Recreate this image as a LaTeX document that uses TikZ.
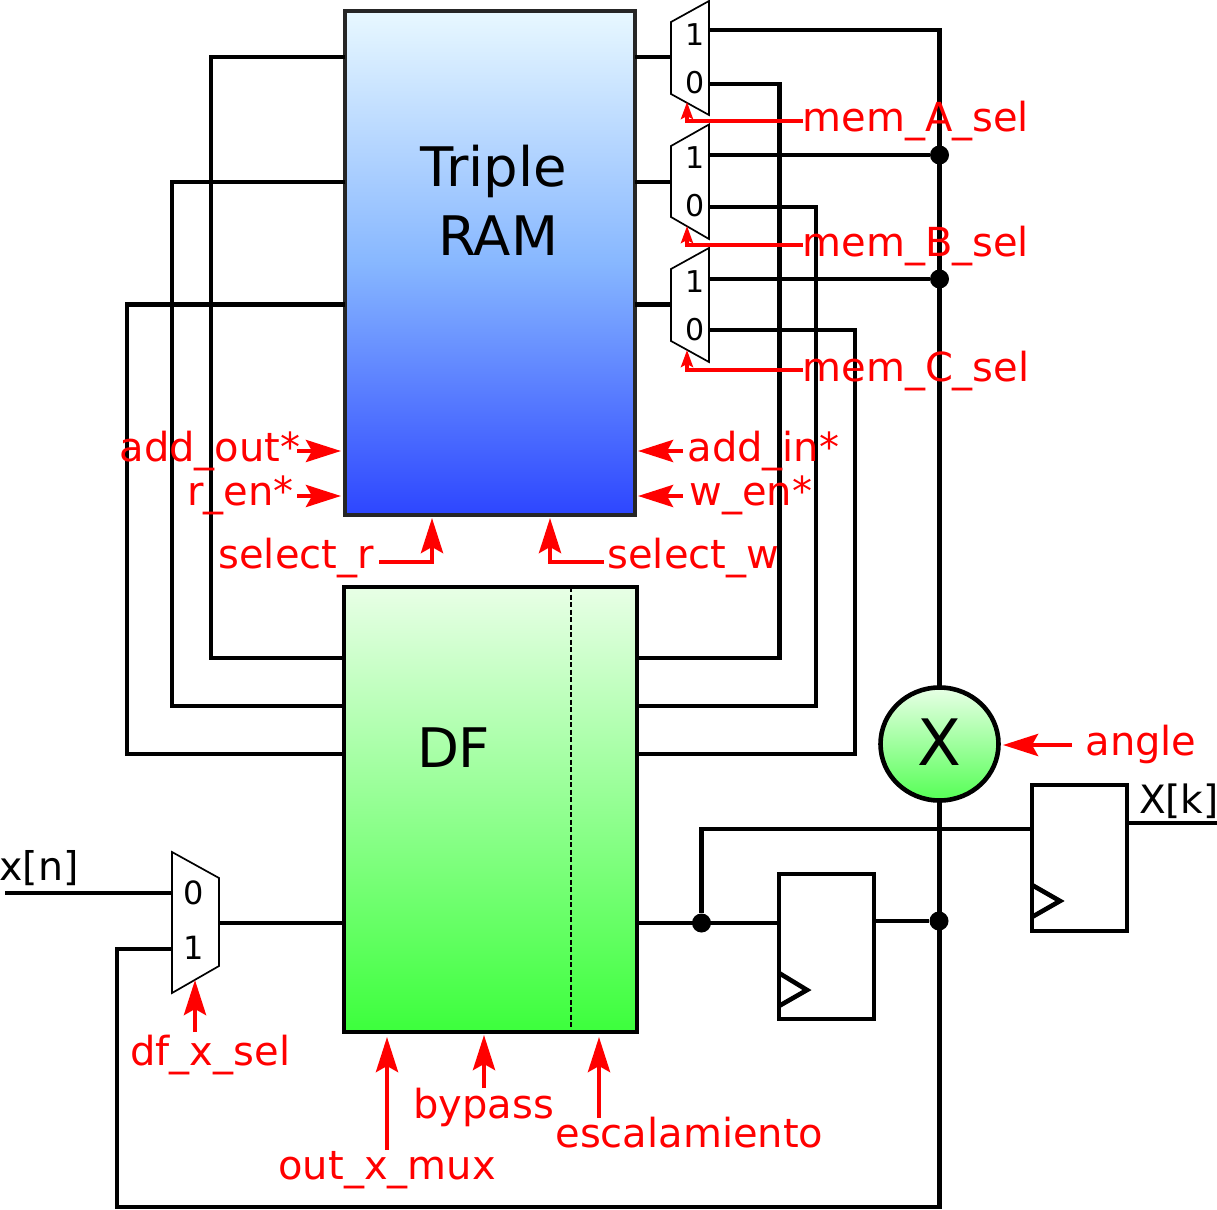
\documentclass[tikz,border=0pt]{standalone}
\usepackage{fontspec}
\setmainfont{DejaVu Sans}
\usetikzlibrary{arrows.meta,shapes.geometric}
\definecolor{sigred}{RGB}{255,0,0}
\tikzset{
  wire/.style={draw=black,line width=4.6pt,line join=miter},
  thinwire/.style={draw=black,line width=3.6pt},
  ctl/.style={draw=sigred,line width=4.4pt,-{Stealth[length=35pt,width=22pt,inset=6pt]}},
  ctlsmall/.style={draw=sigred,line width=3.8pt,-{Stealth[length=17pt,width=12pt,inset=3pt]}},
  inset0/.style={inner sep=0pt,outer sep=0pt},
  lab/.style={text=sigred,font=\fontsize{40}{42}\selectfont,anchor=base west,inset0},
  blk/.style={text=black,font=\fontsize{39.5}{42}\selectfont,anchor=base west,inset0},
  bigt/.style={text=black,font=\fontsize{54.5}{56}\selectfont,anchor=base,inset0},
  digit/.style={text=black,font=\fontsize{30}{32}\selectfont,anchor=center,inset0},
  muxbody/.style={draw=black,line width=1.7pt,fill=white,line join=miter},
  ffbody/.style={draw=black,line width=4.6pt,fill=white,line join=miter},
  clk/.style={draw=black,line width=4.6pt,line join=miter},
  dot/.style={circle,fill=black,minimum size=19pt,inner sep=0pt},
  ramstyle/.style={draw=black!85,line width=3.2pt,top color=ramtop,bottom color=rambot,middle color=rammid,inset0,anchor=north west},
  dfstyle/.style={draw=black,line width=3.8pt,top color=dftop,bottom color=dfbot,inset0,anchor=north west},
}
\definecolor{ramtop}{RGB}{232,248,255}
\definecolor{rammid}{RGB}{135,183,255}
\definecolor{rambot}{RGB}{45,70,255}
\definecolor{dftop}{RGB}{232,255,230}
\definecolor{dfbot}{RGB}{60,255,60}
\definecolor{xbot}{RGB}{85,255,85}
\begin{document}
\begin{tikzpicture}[x=1pt,y=-1pt]
\useasboundingbox (0,0) rectangle (1217,1209);
% blocks
\node[ramstyle,minimum width=290pt,minimum height=504pt] (ram) at (345,11) {};
\node[dfstyle,minimum width=293pt,minimum height=445pt] (df) at (344,587) {};
\coordinate (dashT) at (571,587); \coordinate (dashB) at (571,1032);
\draw[black,line width=1.8pt,dash pattern=on 5pt off 2.5pt] (dashT) -- (dashB);
% port coordinates
\coordinate (ramLA) at (345,57); \coordinate (ramLB) at (345,182); \coordinate (ramLC) at (345,304.5);
\coordinate (ramRA) at (635,57); \coordinate (ramRB) at (635,182); \coordinate (ramRC) at (635,304.5);
\coordinate (dfLA) at (344,658); \coordinate (dfLB) at (344,706); \coordinate (dfLC) at (344,754);
\coordinate (dfRA) at (637,658); \coordinate (dfRB) at (637,706); \coordinate (dfRC) at (637,754);
\coordinate (dfIn) at (344,923); \coordinate (dfOut) at (637,923);
\coordinate (mAin) at (671,57); \coordinate (mBin) at (671,182); \coordinate (mCin) at (671,304.5);
\coordinate (mA1) at (709,30); \coordinate (mA0) at (709,84);
\coordinate (mB1) at (709,155); \coordinate (mB0) at (709,207);
\coordinate (mC1) at (709,279); \coordinate (mC0) at (709,330);
\coordinate (bendAtop) at (939.5,30);
\coordinate (mxIn0) at (172,893); \coordinate (mxIn1) at (172,949); \coordinate (mxOut) at (219,923);
\coordinate (xnEnd) at (5,893);
\coordinate (ff1in) at (779,923); \coordinate (ff1out) at (874,921);
\coordinate (ff2in) at (1032,829); \coordinate (ff2out) at (1127,823);
\coordinate (xkEnd) at (1217,823);
\coordinate (botR) at (939.5,1207); \coordinate (botL) at (117,1207);
% junction dots
\node[dot] (jA) at (939.5,155) {};
\node[dot] (jB) at (939.5,279) {};
\node[dot] (jC) at (939,921) {};
\node[dot] (jD) at (701.5,923) {};
% multiplier
\node[ellipse,draw=black,line width=4.6pt,top color=dftop,bottom color=xbot,minimum width=118pt,minimum height=113pt,inset0] (mult) at (939.5,744) {};
% wires
\draw[wire] (ramLA) -- (211,57) -- (211,658) -- (dfLA);
\draw[wire] (ramLB) -- (172,182) -- (172,706) -- (dfLB);
\draw[wire] (ramLC) -- (127,304.5) -- (127,754) -- (dfLC);
\draw[wire] (ramRA) -- (mAin);
\draw[wire] (ramRB) -- (mBin);
\draw[wire] (ramRC) -- (mCin);
\draw[wire] (mA0) -- (779.5,84) -- (779.5,658) -- (dfRA);
\draw[wire] (mB0) -- (816,207) -- (816,706) -- (dfRB);
\draw[wire] (mC0) -- (855,330) -- (855,754) -- (dfRC);
\draw[wire] (mA1) -- (bendAtop) -- (mult.north);
\draw[wire] (mB1) -- (jA);
\draw[wire] (mC1) -- (jB);
\draw[wire] (mult.south) -- (botR) -- (botL) -- (117,949) -- (mxIn1);
\draw[wire] (xnEnd) -- (mxIn0);
\draw[wire] (mxOut) -- (dfIn);
\draw[wire] (dfOut) -- (ff1in);
\draw[wire] (jD) -- (701.5,829) -- (ff2in);
\draw[wire] (ff1out) -- (jC);
\draw[thinwire] (ff2out) -- (xkEnd);
% muxes
\draw[muxbody] (671,22) -- (709,1) -- (709,115) -- (671,94) -- cycle;
\draw[muxbody] (671,146) -- (709,124.5) -- (709,239) -- (671,217) -- cycle;
\draw[muxbody] (671,269) -- (709,248) -- (709,362) -- (671,341) -- cycle;
\draw[muxbody] (172,852) -- (219,878) -- (219,966) -- (172,993) -- cycle;
\node[digit] (dA1) at (695,35) {1};
\node[digit] (dA0) at (695,83) {0};
\node[digit] (dB1) at (695,158) {1};
\node[digit] (dB0) at (695,206) {0};
\node[digit] (dC1) at (695,282) {1};
\node[digit] (dC0) at (695,330) {0};
\node[digit,font=\fontsize{32}{34}\selectfont] (dX0) at (194,893) {0};
\node[digit,font=\fontsize{32}{34}\selectfont] (dX1) at (194,948) {1};
% flip-flops
\draw[ffbody] (779,874) rectangle (874,1019);
\draw[clk] (779,973) -- (807,990) -- (779,1006);
\draw[ffbody] (1032,785) rectangle (1127,931);
\draw[clk] (1032,885) -- (1060,901) -- (1032,917);
% black labels
\node[bigt] (tTriple) at (494,186) {Triple};
\node[bigt] (tRAM) at (498,255) {RAM};
\node[bigt,anchor=base west] (tDF) at (417,767) {DF};
\node[bigt,font=\fontsize{64}{66}\selectfont] (tX) at (939,765) {X};
\node[blk] (tXn) at (-0.5,880) {x[n]};
\node[blk,font=\fontsize{39}{42}\selectfont] (tXk) at (1139,813) {X[k]};
% red labels
\node[lab] (lA) at (802.5,132) {mem\_A\_sel};
\node[lab] (lB) at (802.5,256) {mem\_B\_sel};
\node[lab] (lC) at (802.5,381) {mem\_C\_sel};
\node[lab] (lAO) at (119.5,461) {add\_out*};
\node[lab] (lRE) at (187.5,505) {r\_en*};
\node[lab] (lSR) at (218.5,568) {select\_r};
\node[lab] (lSW) at (607.5,568) {select\_w};
\node[lab] (lAI) at (687.5,461) {add\_in*};
\node[lab] (lWE) at (689.5,505) {w\_en*};
\node[lab] (lDX) at (130.5,1065) {df\_x\_sel};
\node[lab] (lOX) at (278.5,1179) {out\_x\_mux};
\node[lab] (lBP) at (413.5,1118) {bypass};
\node[lab] (lES) at (555.5,1147) {escalamiento};
\node[lab] (lAN) at (1085.5,755) {angle};
% red arrows
\coordinate (aAs) at (803,121); \coordinate (aAt) at (687,102);
\coordinate (aBs) at (803,245); \coordinate (aBt) at (687,226);
\coordinate (aCs) at (803,370); \coordinate (aCt) at (687,350);
\draw[ctlsmall] (aAs) -- (aAt |- aAs) -- (aAt);
\draw[ctlsmall] (aBs) -- (aBt |- aBs) -- (aBt);
\draw[ctlsmall] (aCs) -- (aCt |- aCs) -- (aCt);
\coordinate (aoS) at (297,451); \coordinate (aoT) at (341,451);
\coordinate (reS) at (297,496); \coordinate (reT) at (341,496);
\coordinate (aiS) at (683,451); \coordinate (aiT) at (638,451);
\coordinate (weS) at (683,496); \coordinate (weT) at (638,496);
\draw[ctl] (aoS) -- (aoT);
\draw[ctl] (reS) -- (reT);
\draw[ctl] (aiS) -- (aiT);
\draw[ctl] (weS) -- (weT);
\coordinate (srS) at (379,562); \coordinate (srT) at (432,518);
\coordinate (swS) at (604,562); \coordinate (swT) at (550,518);
\draw[ctl] (srS) -- (srT |- srS) -- (srT);
\draw[ctl] (swS) -- (swT |- swS) -- (swT);
\coordinate (dxS) at (195,1032); \coordinate (dxT) at (195,980);
\coordinate (oxS) at (387,1150); \coordinate (oxT) at (387,1037);
\coordinate (bpS) at (484,1088); \coordinate (bpT) at (484,1035);
\coordinate (esS) at (599,1118); \coordinate (esT) at (599,1037);
\coordinate (anS) at (1072,745); \coordinate (anT) at (1003,745);
\draw[ctl] (dxS) -- (dxT);
\draw[ctl] (oxS) -- (oxT);
\draw[ctl] (bpS) -- (bpT);
\draw[ctl] (esS) -- (esT);
\draw[ctl] (anS) -- (anT);
\end{tikzpicture}
\end{document}
